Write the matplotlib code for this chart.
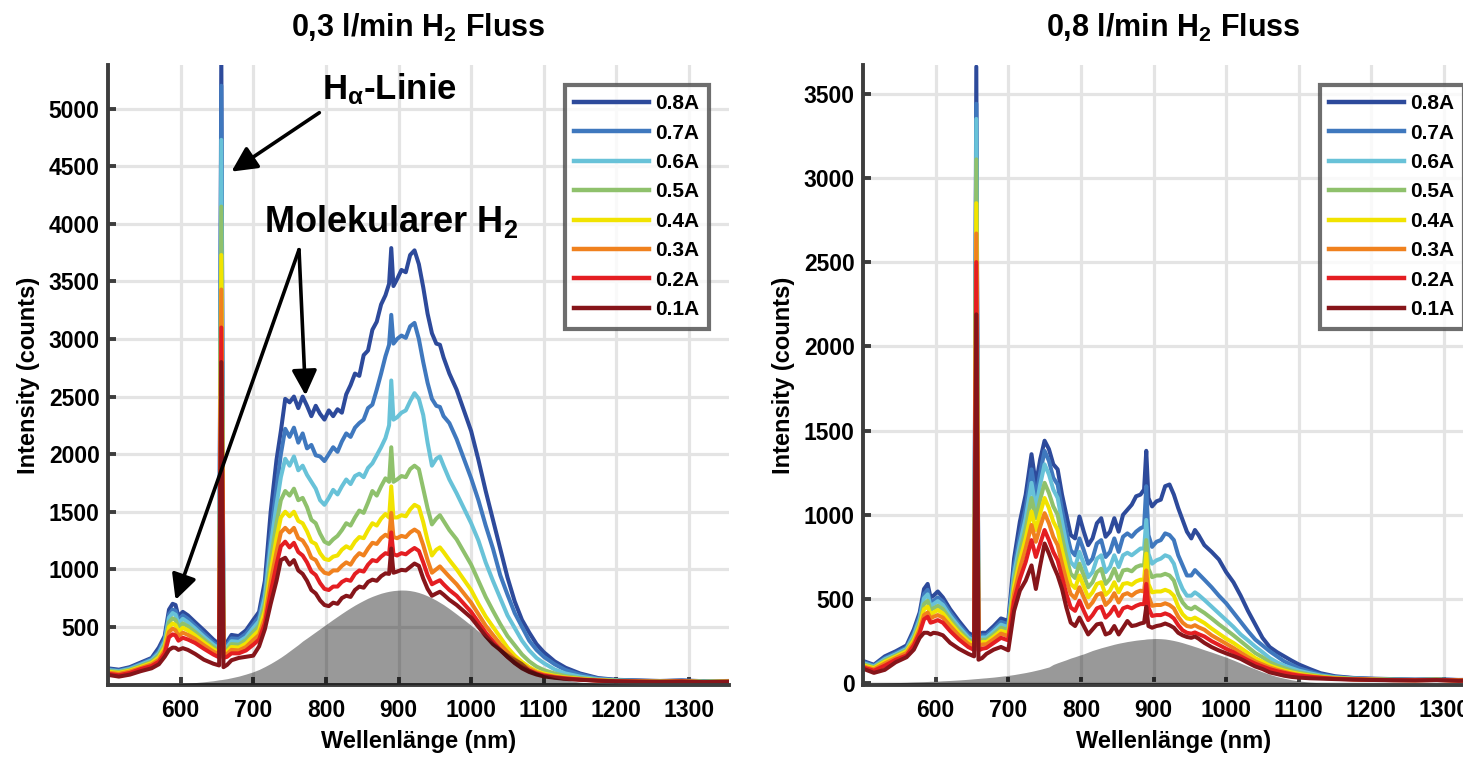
import numpy as np
import matplotlib
matplotlib.use("Agg")
import matplotlib.pyplot as plt

plt.rcParams['font.family'] = ['Liberation Sans', 'DejaVu Sans']
plt.rcParams['font.weight'] = 'bold'
plt.rcParams['mathtext.fontset'] = 'custom'
plt.rcParams['mathtext.rm'] = 'Liberation Sans:bold'
plt.rcParams['mathtext.it'] = 'Liberation Sans:bold'
plt.rcParams['mathtext.bf'] = 'Liberation Sans:bold'

# ---------------- data ----------------
wavelength = [500, 515, 530, 545, 560, 570, 578, 584, 589, 593, 597, 603, 610,
              620, 632, 645, 653, 656, 659, 664, 670, 680, 690, 700,
              708, 716, 724, 732, 738, 744, 750, 756, 762, 768, 774, 780, 786, 792, 798,
              804, 810, 816, 822, 828, 834, 840, 846, 852, 858, 864, 870, 876, 882,
              887, 890, 893, 898, 904, 910, 916, 922, 928, 934, 940, 946, 952, 957, 962, 970,
              980, 990, 1000, 1010, 1020, 1030, 1040, 1050, 1060, 1070, 1080, 1090, 1100,
              1115, 1130, 1150, 1175, 1200, 1230, 1260, 1290, 1320, 1355]

currents = ['0.8A', '0.7A', '0.6A', '0.5A', '0.4A', '0.3A', '0.2A', '0.1A']

# 0,3 l/min H2 flow
flow03_08A = [140, 128, 150, 190, 230, 320, 420, 650, 700, 690, 590, 630, 600,
              540, 470, 390, 350, 5500, 360, 370, 430, 420, 470, 560,
              630, 900, 1500, 1950, 2200, 2480, 2450, 2500, 2400, 2500, 2420, 2330, 2420, 2350, 2300,
              2380, 2330, 2390, 2360, 2520, 2600, 2700, 2680, 2860, 2900, 3080, 3150, 3300, 3380,
              3480, 3790, 3460, 3520, 3600, 3580, 3730, 3770, 3650, 3450, 3220, 3050, 2960, 2950, 2840, 2700,
              2560, 2380, 2200, 1950, 1680, 1430, 1180, 930, 720, 560, 450, 350, 280,
              200, 145, 95, 55, 40, 35, 30, 35, 28, 30]
flow03_07A = [132, 120, 142, 180, 220, 290, 395, 610, 650, 640, 560, 600, 570,
              510, 440, 365, 330, 5200, 340, 345, 400, 395, 440, 520,
              590, 820, 1300, 1700, 2000, 2220, 2150, 2230, 2100, 2180, 2050, 2080, 1990, 1980, 1940,
              2000, 2060, 2020, 2110, 2180, 2150, 2230, 2270, 2300, 2400, 2430, 2560, 2700, 2850,
              2950, 3210, 2960, 3000, 3030, 3010, 3110, 3140, 3000, 2800, 2620, 2480, 2420, 2410, 2330, 2270,
              2130, 1960, 1790, 1600, 1380, 1180, 950, 780, 620, 500, 380, 300, 240,
              175, 125, 85, 50, 38, 32, 28, 33, 26, 28]
flow03_06A = [125, 114, 135, 172, 210, 272, 370, 580, 620, 605, 530, 570, 540,
              485, 415, 345, 312, 4730, 320, 325, 375, 370, 410, 490,
              550, 760, 1200, 1560, 1800, 1960, 1900, 1980, 1860, 1900, 1820, 1760, 1700, 1600, 1560,
              1620, 1690, 1650, 1720, 1780, 1740, 1810, 1830, 1800, 1880, 1920, 1990, 2060, 2140,
              2250, 2640, 2300, 2320, 2360, 2380, 2460, 2530, 2480, 2340, 2100, 1900, 1960, 1980, 1900, 1780,
              1660, 1530, 1400, 1250, 1060, 900, 750, 600, 490, 380, 295, 230, 185,
              130, 95, 68, 45, 35, 30, 26, 30, 24, 27]
flow03_05A = [118, 108, 128, 162, 198, 255, 345, 540, 575, 560, 495, 530, 505,
              455, 390, 325, 295, 4150, 300, 305, 350, 345, 385, 455,
              510, 700, 1080, 1400, 1600, 1680, 1640, 1700, 1600, 1620, 1540, 1430, 1400, 1310, 1240,
              1220, 1260, 1290, 1340, 1400, 1380, 1450, 1510, 1490, 1580, 1680, 1640, 1720, 1790,
              1760, 2060, 1760, 1780, 1810, 1800, 1870, 1900, 1870, 1700, 1530, 1390, 1440, 1470, 1420, 1340,
              1260, 1150, 1040, 900, 760, 640, 525, 420, 340, 260, 200, 155, 125,
              95, 72, 55, 40, 33, 28, 25, 29, 23, 26]
flow03_04A = [110, 100, 120, 152, 186, 235, 320, 500, 530, 515, 460, 492, 470,
              425, 365, 305, 278, 3730, 280, 285, 325, 320, 355, 420,
              470, 640, 980, 1270, 1450, 1500, 1460, 1500, 1420, 1400, 1330, 1240, 1220, 1140, 1090,
              1080, 1110, 1120, 1170, 1200, 1180, 1240, 1280, 1270, 1340, 1400, 1380, 1440, 1480,
              1450, 1720, 1450, 1450, 1470, 1460, 1520, 1560, 1540, 1410, 1250, 1120, 1170, 1190, 1150, 1080,
              1000, 910, 820, 700, 590, 500, 410, 320, 250, 195, 150, 115, 95,
              75, 60, 48, 36, 30, 26, 24, 27, 22, 25]
flow03_03A = [102, 92, 112, 142, 174, 215, 295, 455, 485, 470, 420, 450, 430,
              395, 340, 285, 260, 3430, 260, 265, 300, 295, 325, 385,
              430, 580, 890, 1150, 1320, 1360, 1320, 1360, 1270, 1250, 1190, 1100, 1080, 1010, 970,
              960, 990, 990, 1030, 1060, 1040, 1100, 1140, 1120, 1180, 1230, 1220, 1270, 1300,
              1280, 1490, 1280, 1270, 1290, 1280, 1320, 1345, 1320, 1210, 1080, 970, 1000, 1025, 990, 935,
              870, 790, 710, 610, 510, 430, 350, 280, 220, 175, 135, 105, 85,
              68, 55, 44, 34, 28, 25, 23, 26, 21, 24]
flow03_02A = [93, 80, 100, 133, 160, 198, 270, 410, 435, 425, 380, 405, 390,
              360, 310, 260, 235, 3100, 230, 240, 270, 270, 295, 345,
              390, 530, 800, 1040, 1200, 1240, 1190, 1230, 1150, 1120, 1060, 980, 950, 880, 830,
              820, 850, 850, 890, 910, 900, 960, 990, 980, 1040, 1080, 1070, 1110, 1140,
              1130, 1320, 1130, 1120, 1140, 1130, 1160, 1185, 1160, 1060, 950, 870, 890, 905, 870, 820,
              770, 700, 630, 540, 450, 375, 300, 240, 190, 150, 120, 95, 78,
              62, 52, 42, 33, 27, 24, 22, 25, 20, 23]
flow03_01A = [83, 68, 85, 115, 140, 175, 240, 300, 320, 318, 300, 315, 300,
              265, 215, 180, 165, 2800, 150, 170, 210, 230, 240, 250,
              330, 480, 700, 900, 1080, 1100, 1040, 1080, 990, 960, 900, 820, 790, 730, 690,
              680, 710, 700, 750, 770, 760, 820, 850, 840, 890, 910, 900, 940, 965,
              960, 1180, 970, 980, 995, 990, 1020, 1050, 1030, 920, 830, 770, 790, 805, 780, 735,
              690, 635, 580, 500, 420, 350, 300, 240, 185, 140, 108, 86, 70,
              58, 48, 40, 32, 27, 24, 22, 25, 20, 23]
flow03_gray = [0, 0, 0, 0, 0, 1, 2, 3, 4, 5, 6, 8, 11,
               16, 23, 32, 40, 42, 45, 50, 58, 72, 90, 110,
               130, 155, 182, 212, 236, 262, 290, 318, 346, 377, 403, 430, 457, 484, 511,
               538, 565, 591, 617, 642, 666, 689, 710, 730, 749, 765, 779, 792, 802,
               809, 812, 815, 818, 820, 819, 815, 808, 798, 785, 769, 751, 731, 712, 693, 658,
               611, 563, 513, 462, 411, 363, 317, 274, 234, 198, 140, 110, 85,
               58, 38, 20, 8, 3, 0, 0, 0, 0, 0]

# 0,8 l/min H2 flow
flow08_08A = [133, 110, 160, 190, 225, 320, 420, 560, 590, 510, 520, 545, 510,
              440, 370, 300, 280, 3660, 285, 300, 300, 340, 385, 370,
              740, 960, 1120, 1360, 1180, 1330, 1440, 1390, 1300, 1270, 1120, 1000, 880, 860, 990,
              900, 820, 860, 950, 980, 870, 900, 980, 900, 1000, 1030, 1060, 1110, 1120,
              1150, 1380, 1100, 1050, 1080, 1090, 1170, 1180, 1120, 1040, 970, 900, 860, 910, 880, 820,
              780, 735, 660, 600, 520, 430, 350, 270, 215, 185, 160, 135, 112,
              85, 60, 42, 32, 28, 25, 22, 24, 20, 22]
flow08_07A = [127, 105, 150, 180, 212, 300, 400, 530, 555, 475, 490, 510, 485,
              420, 350, 285, 265, 3440, 270, 285, 285, 322, 365, 350,
              690, 880, 1040, 1270, 1100, 1250, 1380, 1320, 1220, 1180, 1030, 900, 790, 760, 860,
              790, 710, 740, 830, 850, 750, 780, 860, 780, 870, 890, 870, 900, 920,
              930, 1170, 880, 810, 840, 850, 890, 880, 850, 760, 700, 640, 640, 672, 650, 615,
              570, 520, 475, 420, 365, 310, 260, 225, 190, 160, 130, 110, 90,
              70, 52, 38, 30, 26, 23, 21, 23, 19, 21]
flow08_06A = [120, 100, 143, 172, 205, 285, 380, 505, 528, 455, 470, 488, 465,
              400, 335, 272, 253, 3350, 258, 272, 272, 308, 348, 333,
              650, 830, 980, 1190, 1040, 1180, 1300, 1240, 1150, 1100, 960, 830, 720, 690, 780,
              710, 630, 660, 740, 760, 660, 690, 760, 690, 760, 775, 760, 780, 800,
              800, 970, 770, 710, 730, 740, 760, 750, 710, 620, 560, 520, 520, 540, 525, 495,
              455, 415, 375, 335, 290, 255, 218, 185, 150, 125, 105, 90, 75,
              60, 46, 35, 28, 25, 22, 20, 22, 18, 20]
flow08_05A = [114, 95, 136, 165, 198, 270, 360, 470, 490, 435, 445, 460, 440,
              380, 318, 260, 242, 3110, 245, 258, 258, 292, 330, 315,
              610, 780, 920, 1100, 980, 1090, 1190, 1130, 1050, 1000, 870, 750, 650, 625, 710,
              640, 570, 600, 660, 680, 590, 620, 680, 610, 670, 675, 665, 690, 700,
              700, 850, 680, 630, 640, 640, 650, 640, 610, 530, 480, 450, 440, 455, 440, 418,
              385, 350, 318, 285, 250, 215, 180, 155, 125, 105, 90, 75, 65,
              52, 42, 33, 27, 24, 21, 20, 22, 18, 20]
flow08_04A = [107, 90, 128, 158, 190, 255, 340, 440, 455, 410, 420, 435, 415,
              360, 300, 247, 230, 2850, 232, 245, 245, 277, 312, 298,
              570, 730, 860, 1020, 910, 1010, 1100, 1040, 960, 910, 790, 680, 590, 565, 640,
              575, 510, 540, 590, 600, 525, 550, 600, 540, 590, 595, 585, 605, 615,
              615, 770, 590, 540, 545, 545, 555, 545, 520, 455, 410, 385, 380, 390, 378, 358,
              325, 295, 265, 240, 210, 180, 150, 128, 105, 90, 76, 65, 56,
              46, 38, 30, 25, 22, 20, 19, 21, 17, 19]
flow08_03A = [100, 83, 118, 150, 180, 240, 320, 405, 420, 385, 395, 405, 390,
              340, 284, 234, 218, 2670, 218, 230, 232, 262, 295, 280,
              530, 680, 800, 940, 840, 930, 1010, 950, 870, 820, 710, 610, 530, 505, 570,
              510, 450, 480, 525, 535, 465, 490, 535, 480, 525, 535, 520, 540, 550,
              545, 670, 520, 460, 465, 465, 475, 465, 445, 395, 360, 340, 335, 345, 333, 318,
              285, 260, 235, 210, 182, 155, 130, 112, 94, 80, 68, 58, 50,
              42, 35, 28, 24, 21, 19, 18, 20, 16, 18]
flow08_02A = [94, 75, 105, 140, 165, 225, 300, 380, 395, 360, 365, 375, 360,
              310, 260, 215, 198, 2500, 195, 205, 210, 240, 270, 255,
              490, 620, 720, 850, 750, 830, 910, 850, 780, 730, 630, 530, 450, 430, 490,
              430, 375, 405, 445, 455, 390, 415, 455, 400, 445, 455, 445, 460, 470,
              470, 590, 450, 400, 405, 405, 415, 405, 385, 345, 315, 300, 295, 302, 292, 278,
              250, 228, 205, 185, 160, 137, 117, 100, 84, 72, 62, 53, 46,
              39, 33, 27, 23, 21, 19, 18, 20, 16, 18]
flow08_01A = [87, 62, 80, 125, 155, 200, 270, 300, 300, 290, 300, 296, 285,
              240, 205, 175, 160, 2190, 140, 150, 175, 200, 216, 196,
              430, 550, 610, 700, 560, 700, 830, 770, 700, 640, 560, 450, 360, 340, 390,
              340, 290, 320, 350, 355, 290, 300, 340, 290, 330, 370, 340, 345, 355,
              360, 455, 340, 330, 340, 345, 355, 345, 330, 300, 285, 275, 270, 278, 265, 240,
              215, 195, 178, 162, 145, 122, 100, 85, 65, 55, 45, 38, 34,
              30, 28, 25, 22, 20, 18, 17, 19, 15, 17]
flow08_gray = [0, 0, 2, 4, 6, 8, 9, 10, 11, 12, 12, 13, 15,
               17, 20, 24, 27, 28, 29, 31, 33, 37, 42, 47,
               52, 58, 64, 71, 77, 83, 90, 97, 112, 122, 131, 140, 150, 158, 167,
               175, 185, 195, 203, 211, 218, 225, 232, 238, 243, 248, 252, 256, 259,
               261, 263, 264, 265, 266, 265, 263, 259, 254, 248, 241, 233, 225, 218, 211, 199,
               185, 170, 155, 138, 120, 102, 85, 68, 53, 40, 30, 21, 14,
               7, 3, 0, 0, 0, 0, 0, 0, 0, 0]

left_series = [flow03_08A, flow03_07A, flow03_06A, flow03_05A,
               flow03_04A, flow03_03A, flow03_02A, flow03_01A]
right_series = [flow08_08A, flow08_07A, flow08_06A, flow08_05A,
                flow08_04A, flow08_03A, flow08_02A, flow08_01A]

colors = ['#2d4a9b', '#3f78be', '#68c2d8', '#8fc16c',
          '#f1e300', '#f0811e', '#e41e22', '#86151a']

xticks = [600, 700, 800, 900, 1000, 1100, 1200, 1300]
left_yticks = [500, 1000, 1500, 2000, 2500, 3000, 3500, 4000, 4500, 5000]
right_yticks = [0, 500, 1000, 1500, 2000, 2500, 3000, 3500]

# ---------------- figure ----------------
W, H = 1463, 760
fig = plt.figure(figsize=(W / 100, H / 100), dpi=100)
axL = fig.add_axes([108 / W, 75 / H, 621 / W, 620 / H])
axR = fig.add_axes([863 / W, 75 / H, 621 / W, 620 / H])

spine_c = '#3d3d3d'
grid_c = '#e4e4e4'

def style(ax, series, gray, yticks, ylim, title):
    for vals, c, lab in zip(series, colors, currents):
        ax.plot(wavelength, vals, color=c, lw=2.9, label=lab, zorder=2)
    ax.fill_between(wavelength, 0, gray, color='k', alpha=0.4, lw=0, zorder=3)
    ax.set_xlim(500, 1355)
    ax.set_ylim(*ylim)
    ax.set_xticks(xticks)
    ax.set_yticks(yticks)
    ax.grid(True, color=grid_c, lw=2.3)
    ax.set_axisbelow(True)
    for s in ['top', 'right']:
        ax.spines[s].set_visible(False)
    for s in ['left', 'bottom']:
        ax.spines[s].set_color(spine_c)
        ax.spines[s].set_linewidth(2.8)
    ax.tick_params(axis='both', direction='in', length=6, width=2.8,
                   color=spine_c, labelsize=16.5)
    ax.tick_params(axis='x', pad=10)
    ax.tick_params(axis='y', pad=6)
    for lbl in ax.get_xticklabels() + ax.get_yticklabels():
        lbl.set_fontweight('bold')
    ax.set_xlabel('Wellenlänge (nm)', fontsize=17, fontweight='bold', labelpad=6)
    ax.set_ylabel('Intensity (counts)', fontsize=17, fontweight='bold', labelpad=6)
    ax.set_title(title, fontsize=22, fontweight='bold', pad=20)
    leg = ax.legend(loc='upper right', bbox_to_anchor=(0.968, 0.968),
                    borderaxespad=0, fancybox=False, frameon=True,
                    fontsize=15, handlelength=3.6, handletextpad=0.3,
                    labelspacing=0.5, borderpad=0.45)
    leg.get_frame().set_edgecolor('#4a4a4a')
    leg.get_frame().set_linewidth(3)
    for t in leg.get_texts():
        t.set_fontweight('bold')
    for ln in leg.get_lines():
        ln.set_linewidth(3.2)

style(axL, left_series, flow03_gray, left_yticks, (-5, 5380),
      '0,3 l/min H$_2$ Fluss')
style(axR, right_series, flow08_gray, right_yticks, (-10, 3670),
      '0,8 l/min H$_2$ Fluss')

# annotations
arrow = dict(arrowstyle='-|>', color='k', lw=2.6, mutation_scale=38,
             shrinkA=0, shrinkB=0)
axL.text(795, 5166, r'H$_{\alpha}$-Linie', fontsize=25, fontweight='bold',
         va='center', ha='left', zorder=6)
axL.annotate('', xy=(670, 4454), xytext=(791, 4966), arrowprops=arrow, zorder=6)
axL.text(715, 4019, r'Molekularer H$_2$', fontsize=26, fontweight='bold',
         va='center', ha='left', zorder=6)
axL.annotate('', xy=(593, 734), xytext=(763, 3776), arrowprops=arrow, zorder=6)
axL.annotate('', xy=(772, 2510), xytext=(763, 3776), arrowprops=arrow, zorder=6)

fig.savefig('out.png', dpi=100)
